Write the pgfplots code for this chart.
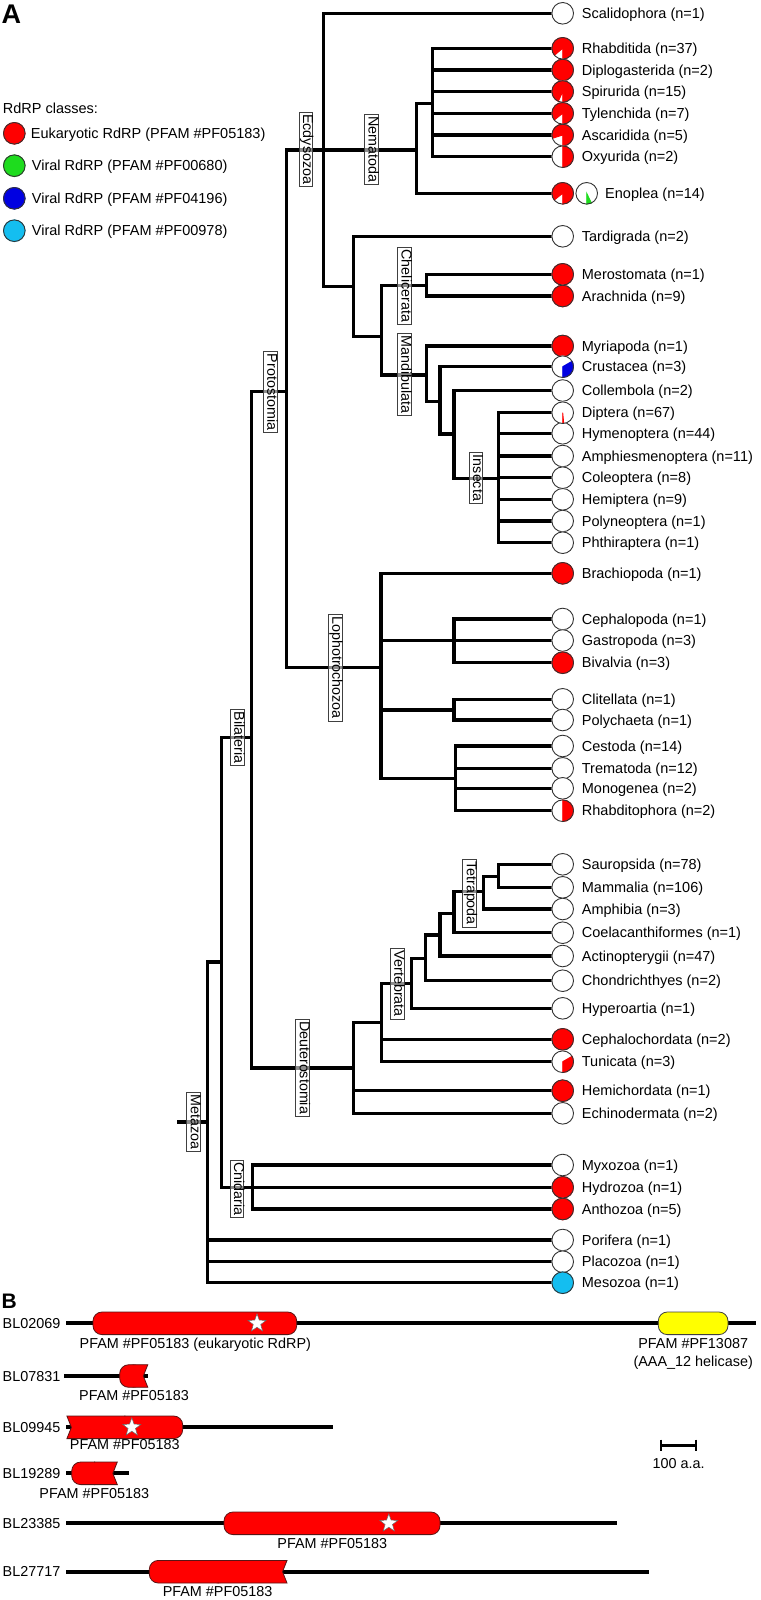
\documentclass[border=0pt]{standalone}
\usepackage{fontspec}
\setmainfont{Liberation Sans}
\usepackage{pgfplots}
\pgfplotsset{compat=1.18}
\usepackage{pgfplotstable}
\definecolor{rdred}{RGB}{255,0,0}
\definecolor{rdgreen}{RGB}{30,220,30}
\definecolor{rdblue}{RGB}{0,0,225}
\definecolor{rdcyan}{RGB}{20,190,240}
\definecolor{rdyellow}{RGB}{255,255,0}
\definecolor{domline}{RGB}{90,20,20}
\newcommand\lf{\fontsize{14.5}{17}\selectfont}
\pgfdeclareplotmark{wstar}{\filldraw[fill=white, draw=black!60, line width=0.5pt] (90:9.5pt)--(126:3.9pt)--(162:9.5pt)--(198:3.9pt)--(234:9.5pt)--(270:3.9pt)--(306:9.5pt)--(342:3.9pt)--(18:9.5pt)--(54:3.9pt)--cycle;}

% tree segments (pixel coordinates, y downwards)
\pgfplotstableread{
x y
323.3 13.3
552 13.3
nan nan
432.7 48.3
552 48.3
nan nan
432.7 70
552 70
nan nan
432.7 91.5
552 91.5
nan nan
432.7 113.3
552 113.3
nan nan
432.7 135
552 135
nan nan
432.7 156.7
552 156.7
nan nan
416.7 193.3
552 193.3
nan nan
353.3 236.3
552 236.3
nan nan
426.7 274.3
552 274.3
nan nan
426.7 296
552 296
nan nan
426.7 346
552 346
nan nan
440 366.7
552 366.7
nan nan
454 390.5
552 390.5
nan nan
498.3 412.7
552 412.7
nan nan
498.3 433.3
552 433.3
nan nan
498.3 456
552 456
nan nan
498.3 477.7
552 477.7
nan nan
498.3 499.3
552 499.3
nan nan
498.3 521
552 521
nan nan
498.3 542.7
552 542.7
nan nan
381 573.3
552 573.3
nan nan
454 619
552 619
nan nan
381 640.5
552 640.5
nan nan
454 662.7
552 662.7
nan nan
454 699.3
552 699.3
nan nan
454 720
552 720
nan nan
455.7 746
552 746
nan nan
455.7 768.3
552 768.3
nan nan
455.7 788.3
552 788.3
nan nan
455.7 810.7
552 810.7
nan nan
498.3 864.3
552 864.3
nan nan
498.3 887.3
552 887.3
nan nan
483.3 909
552 909
nan nan
454 932.7
552 932.7
nan nan
440 956
552 956
nan nan
425.7 980.7
552 980.7
nan nan
411.7 1008.3
552 1008.3
nan nan
381.7 1039.3
552 1039.3
nan nan
381.7 1061.7
552 1061.7
nan nan
353.3 1090.7
552 1090.7
nan nan
353.3 1113.3
552 1113.3
nan nan
252.4 1165
552 1165
nan nan
222 1187.3
552 1187.3
nan nan
252.4 1209
552 1209
nan nan
207.3 1240
552 1240
nan nan
207.3 1261.7
552 1261.7
nan nan
207.3 1282.7
552 1282.7
nan nan
286.7 150
416.7 150
nan nan
416.7 103.3
432.7 103.3
nan nan
323.3 286.7
353.3 286.7
nan nan
353.3 336.7
381.7 336.7
nan nan
381.7 285.2
426.7 285.2
nan nan
381.7 375
426.7 375
nan nan
426.7 401.7
440 401.7
nan nan
440 434
454 434
nan nan
454 478.3
498.3 478.3
nan nan
286.7 667.3
381 667.3
nan nan
381 710
454 710
nan nan
381 778.3
455.7 778.3
nan nan
483.3 876.7
498.3 876.7
nan nan
454 891.7
483.3 891.7
nan nan
440 913.3
454 913.3
nan nan
425.7 935
440 935
nan nan
411.7 958.3
425.7 958.3
nan nan
381.7 983.3
411.7 983.3
nan nan
353.3 1022.7
381.7 1022.7
nan nan
251.7 1068
353.3 1068
nan nan
251.7 391.8
286.7 391.8
nan nan
221.7 737.8
251.7 737.8
nan nan
207.3 962
221.7 962
nan nan
179 1122
207.3 1122
nan nan
286.7 150
286.7 667.3
nan nan
323.3 13.3
323.3 286.7
nan nan
416.7 103.3
416.7 193.3
nan nan
432.7 48.3
432.7 156.7
nan nan
353.3 236.3
353.3 336.7
nan nan
381.7 285.2
381.7 375
nan nan
426.7 274.3
426.7 296
nan nan
426.7 346
426.7 401.7
nan nan
440 366.7
440 434
nan nan
454 390.5
454 478.3
nan nan
498.3 412.7
498.3 542.7
nan nan
381 573.3
381 778.3
nan nan
454 619
454 662.7
nan nan
454 699.3
454 720
nan nan
455.7 746
455.7 810.7
nan nan
498.3 864.3
498.3 887.3
nan nan
483.3 876.7
483.3 909
nan nan
454 891.7
454 932.7
nan nan
440 913.3
440 956
nan nan
425.7 935
425.7 980.7
nan nan
411.7 958.3
411.7 1008.3
nan nan
381.7 983.3
381.7 1061.7
nan nan
353.3 1022.7
353.3 1113.3
nan nan
251.7 391.8
251.7 1068
nan nan
221.7 737.8
221.7 1187.3
nan nan
252.4 1165
252.4 1209
nan nan
207.3 962
207.3 1282.7
}\treetab

% pie charts: x, y, end angle of the coloured wedge (270 + 360*fraction)
\pgfplotstableread{
x y a
562.7 13.3 270
562.7 236.3 270
562.7 390.5 270
562.7 433.3 270
562.7 456 270
562.7 477.7 270
562.7 499.3 270
562.7 521 270
562.7 542.7 270
562.7 619 270
562.7 640.5 270
562.7 699.3 270
562.7 720 270
562.7 746 270
562.7 768.3 270
562.7 788.3 270
562.7 864.3 270
562.7 887.3 270
562.7 909 270
562.7 932.7 270
562.7 956 270
562.7 980.7 270
562.7 1008.3 270
562.7 1113.3 270
562.7 1165 270
562.7 1240 270
562.7 1261.7 270
}\piewhite
\pgfplotstableread{
x y a
562.7 48.3 580
562.7 70 630
562.7 91.5 606
562.7 113.3 578.6
562.7 135 558
562.7 156.7 450
562.7 193.3 578.6
562.7 274.3 630
562.7 296 630
562.7 346 630
562.7 412.7 275.4
562.7 573.3 630
562.7 662.7 630
562.7 810.7 450
562.7 1039.3 630
562.7 1061.7 390
562.7 1090.7 630
562.7 1187.3 630
562.7 1209 630
14.3 133.3 630
}\piered
\pgfplotstableread{
x y a
586.7 193.3 295.7
14.3 165.7 630
}\piegreen
\pgfplotstableread{
x y a
562.7 366.7 390
14.3 198.3 630
}\pieblue
\pgfplotstableread{
x y a
562.7 1282.7 630
14.3 230.7 630
}\piecyan

\newcommand\lab[3][581.7]{\node[anchor=base west, inner sep=0pt, font=\lf] at (axis cs:#1,#2) {#3};}
\newcommand\clade[3]{\node[draw=black!75, line width=0.7pt, fill=white, fill opacity=0.55, text opacity=1, rotate=-90, inner sep=2.2pt, text height=0.74em, text depth=0.21em, font=\fontsize{14.3}{16}\selectfont] at (axis cs:#1,#2) {#3};}
\newcommand\blab[3]{\node[anchor=base, inner sep=0pt, font=\fontsize{14.4}{17}\selectfont] at (axis cs:#1,#2) {#3};}

\begin{document}
\begin{tikzpicture}[font=\lf]
\begin{axis}[
  x=1pt, y=1pt, y dir=reverse,
  xmin=0, xmax=760, ymin=0, ymax=1600,
  hide axis, clip=false,
  unbounded coords=jump,
  domf/.style={fill=rdred, draw=none, mark=none},
  doml/.style={draw=domline, line width=0.8pt, mark=none},
  pie/.style={scatter, only marks, mark=o, mark size=10.8pt,
    mark options={draw=black!80, line width=0.9pt},
    visualization depends on={\thisrow{a} \as \piea},
    scatter/@pre marker code/.code={%
      \fill[white] (0,0) circle[radius=10.8pt];
      \fill[#1] (0,0) -- (270:10.8pt) arc[start angle=270, end angle=\piea, radius=10.8pt] -- cycle;
    },
    scatter/@post marker code/.code={}},
]
\addplot[draw=none, fill=white] coordinates {(0,0)(760,0)(760,1600)(0,1600)};

% tree
\addplot[black, line width=3.3pt, line cap=rect, mark=none] table[x=x,y=y] {\treetab};

% clade boxes
\clade{305.8}{149.2}{Ecdysozoa}
\clade{371.3}{149.2}{Nematoda}
\clade{404.2}{285.8}{Chelicerata}
\clade{404}{374.3}{Mandibulata}
\clade{475.8}{478}{Insecta}
\clade{270}{392}{Protostomia}
\clade{335}{667.6}{Lophotrochozoa}
\clade{237}{737.3}{Bilateria}
\clade{302.5}{1067.6}{Deuterostomia}
\clade{397}{983.7}{Vertebrata}
\clade{469.5}{893}{Tetrapoda}
\clade{193.5}{1122}{Metazoa}
\clade{236.8}{1188.7}{Cnidaria}

% pies
\addplot[pie=white] table[x=x,y=y] {\piewhite};
\addplot[pie=rdred] table[x=x,y=y] {\piered};
\addplot[pie=rdgreen] table[x=x,y=y] {\piegreen};
\addplot[pie=rdblue] table[x=x,y=y] {\pieblue};
\addplot[pie=rdcyan] table[x=x,y=y] {\piecyan};

% leaf labels
\lab{18.5}{Scalidophora (n=1)}
\lab{53.5}{Rhabditida (n=37)}
\lab{75.2}{Diplogasterida (n=2)}
\lab{96.7}{Spirurida (n=15)}
\lab{118.5}{Tylenchida (n=7)}
\lab{140.2}{Ascaridida (n=5)}
\lab{161.9}{Oxyurida (n=2)}
\lab[605]{198.5}{Enoplea (n=14)}
\lab{241.5}{Tardigrada (n=2)}
\lab{279.5}{Merostomata (n=1)}
\lab{301.2}{Arachnida (n=9)}
\lab{351.2}{Myriapoda (n=1)}
\lab{371.9}{Crustacea (n=3)}
\lab{395.7}{Collembola (n=2)}
\lab{417.9}{Diptera (n=67)}
\lab{438.5}{Hymenoptera (n=44)}
\lab{461.2}{Amphiesmenoptera (n=11)}
\lab{482.9}{Coleoptera (n=8)}
\lab{504.5}{Hemiptera (n=9)}
\lab{526.2}{Polyneoptera (n=1)}
\lab{547.9}{Phthiraptera (n=1)}
\lab{578.5}{Brachiopoda (n=1)}
\lab{624.2}{Cephalopoda (n=1)}
\lab{645.7}{Gastropoda (n=3)}
\lab{667.9}{Bivalvia (n=3)}
\lab{704.5}{Clitellata (n=1)}
\lab{725.2}{Polychaeta (n=1)}
\lab{751.2}{Cestoda (n=14)}
\lab{773.5}{Trematoda (n=12)}
\lab{793.5}{Monogenea (n=2)}
\lab{815.9}{Rhabditophora (n=2)}
\lab{869.5}{Sauropsida (n=78)}
\lab{892.5}{Mammalia (n=106)}
\lab{914.2}{Amphibia (n=3)}
\lab{937.9}{Coelacanthiformes (n=1)}
\lab{961.2}{Actinopterygii (n=47)}
\lab{985.9}{Chondrichthyes (n=2)}
\lab{1013.5}{Hyperoartia (n=1)}
\lab{1044.5}{Cephalochordata (n=2)}
\lab{1066.9}{Tunicata (n=3)}
\lab{1095.9}{Hemichordata (n=1)}
\lab{1118.5}{Echinodermata (n=2)}
\lab{1170.2}{Myxozoa (n=1)}
\lab{1192.5}{Hydrozoa (n=1)}
\lab{1214.2}{Anthozoa (n=5)}
\lab{1245.2}{Porifera (n=1)}
\lab{1266.9}{Placozoa (n=1)}
\lab{1287.9}{Mesozoa (n=1)}

% legend texts
\lab[2.7]{113.5}{RdRP classes:}
\lab[30.7]{138.5}{Eukaryotic RdRP (PFAM \#PF05183)}
\lab[31.7]{170.9}{Viral RdRP (PFAM \#PF00680)}
\lab[31.7]{203.5}{Viral RdRP (PFAM \#PF04196)}
\lab[31.7]{235.9}{Viral RdRP (PFAM \#PF00978)}

% panel letters
\node[anchor=base west, inner sep=0pt, font=\fontsize{27}{30}\selectfont\bfseries] at (axis cs:1.5,24) {A};
\node[anchor=base west, inner sep=0pt, font=\fontsize{21}{24}\selectfont\bfseries] at (axis cs:1.5,1308) {B};

% panel B backbones
\addplot[black, line width=4pt, mark=none] coordinates {(66.4,1323.3)(756.2,1323.3)};
\addplot[black, line width=4pt, mark=none] coordinates {(64,1376)(147.8,1376)};
\addplot[black, line width=4pt, mark=none] coordinates {(66.4,1427.3)(332.5,1427.3)};
\addplot[black, line width=4pt, mark=none] coordinates {(66.4,1473.3)(128.5,1473.3)};
\addplot[black, line width=4pt, mark=none] coordinates {(66.4,1523.3)(617,1523.3)};
\addplot[black, line width=4pt, mark=none] coordinates {(66.4,1571.7)(648.6,1571.7)};

% domains: BL02069 (both ends rounded)
\addplot[domf, rounded corners=9pt] coordinates {(194.85,1312)(296.7,1312)(296.7,1334.6)(93,1334.6)(93,1312)(194.85,1312)};
\addplot[doml, rounded corners=9pt] coordinates {(194.85,1312)(296.7,1312)(296.7,1334.6)(93,1334.6)(93,1312)(195.85,1312)};
\addplot[domf, fill=rdyellow, rounded corners=9pt] coordinates {(693.15,1312)(728,1312)(728,1334.6)(658.3,1334.6)(658.3,1312)(693.15,1312)};
\addplot[doml, draw=black!75, rounded corners=9pt] coordinates {(693.15,1312)(728,1312)(728,1334.6)(658.3,1334.6)(658.3,1312)(694.15,1312)};
% BL07831 (left rounded, right truncated)
\addplot[domf, rounded corners=9pt] coordinates {(136,1364.7)(119.7,1364.7)(119.7,1387.3)(136,1387.3)};
\addplot[domf] coordinates {(131.5,1387.3)(147.8,1387.3)(143.3,1376)(147.8,1364.7)(131.5,1364.7)};
\addplot[doml, rounded corners=9pt] coordinates {(134,1364.7)(119.7,1364.7)(119.7,1387.3)(134,1387.3)};
\addplot[doml] coordinates {(133.5,1387.3)(147.8,1387.3)(143.3,1376)(147.8,1364.7)(133.5,1364.7)};
% BL09945 (left truncated, right rounded)
\addplot[domf] coordinates {(127,1416)(66.9,1416)(71.4,1427.3)(66.9,1438.6)(127,1438.6)};
\addplot[domf, rounded corners=9pt] coordinates {(122.6,1438.6)(182.7,1438.6)(182.7,1416)(122.6,1416)};
\addplot[doml] coordinates {(125.3,1416)(66.9,1416)(71.4,1427.3)(66.9,1438.6)(125.3,1438.6)};
\addplot[doml, rounded corners=9pt] coordinates {(124.3,1438.6)(182.7,1438.6)(182.7,1416)(124.3,1416)};
% BL19289 (left rounded, right truncated)
\addplot[domf, rounded corners=9pt] coordinates {(96.7,1462)(71.7,1462)(71.7,1484.6)(96.7,1484.6)};
\addplot[domf] coordinates {(92.3,1484.6)(117.3,1484.6)(112.8,1473.3)(117.3,1462)(92.3,1462)};
\addplot[doml, rounded corners=9pt] coordinates {(95,1462)(71.7,1462)(71.7,1484.6)(95,1484.6)};
\addplot[doml] coordinates {(94,1484.6)(117.3,1484.6)(112.8,1473.3)(117.3,1462)(94,1462)};
% BL23385 (both ends rounded)
\addplot[domf, rounded corners=9pt] coordinates {(332,1512)(440,1512)(440,1534.6)(224,1534.6)(224,1512)(332,1512)};
\addplot[doml, rounded corners=9pt] coordinates {(332,1512)(440,1512)(440,1534.6)(224,1534.6)(224,1512)(333,1512)};
% BL27717 (left rounded, right truncated)
\addplot[domf, rounded corners=9pt] coordinates {(220.5,1560.4)(149.3,1560.4)(149.3,1583)(220.5,1583)};
\addplot[domf] coordinates {(216,1583)(287,1583)(282.5,1571.7)(287,1560.4)(216,1560.4)};
\addplot[doml, rounded corners=9pt] coordinates {(218.6,1560.4)(149.3,1560.4)(149.3,1583)(218.6,1583)};
\addplot[doml] coordinates {(217.7,1583)(287,1583)(282.5,1571.7)(287,1560.4)(217.7,1560.4)};

% stars
\addplot[only marks, mark=wstar] coordinates {(257,1323.3)(131.8,1427.3)(388.8,1523.3)};

% scale bar
\addplot[black, line width=2.6pt, mark=none] coordinates {(660.2,1445.3)(697,1445.3)};
\addplot[black, line width=2pt, mark=none] coordinates {(661.2,1439.5)(661.2,1451.2)};
\addplot[black, line width=2pt, mark=none] coordinates {(696,1439.5)(696,1451.2)};

% panel B labels
\node[anchor=base east, inner sep=0pt, font=\fontsize{14.4}{17}\selectfont] at (axis cs:60.6,1328.5) {BL02069};
\node[anchor=base east, inner sep=0pt, font=\fontsize{14.4}{17}\selectfont] at (axis cs:60.6,1381.2) {BL07831};
\node[anchor=base east, inner sep=0pt, font=\fontsize{14.4}{17}\selectfont] at (axis cs:60.6,1432.5) {BL09945};
\node[anchor=base east, inner sep=0pt, font=\fontsize{14.4}{17}\selectfont] at (axis cs:60.6,1478.5) {BL19289};
\node[anchor=base east, inner sep=0pt, font=\fontsize{14.4}{17}\selectfont] at (axis cs:60.6,1528.5) {BL23385};
\node[anchor=base east, inner sep=0pt, font=\fontsize{14.4}{17}\selectfont] at (axis cs:60.6,1576.9) {BL27717};
\blab{195.3}{1348.3}{PFAM \#PF05183 (eukaryotic RdRP)}
\blab{693.2}{1348.3}{PFAM \#PF13087}
\blab{693.2}{1366.7}{(AAA\_12 helicase)}
\blab{134}{1400.7}{PFAM \#PF05183}
\blab{124.8}{1449.3}{PFAM \#PF05183}
\blab{94.3}{1498.3}{PFAM \#PF05183}
\blab{332.3}{1548.3}{PFAM \#PF05183}
\blab{217.6}{1596.7}{PFAM \#PF05183}
\blab{678.6}{1468.3}{100 a.a.}
\end{axis}
\end{tikzpicture}
\end{document}
